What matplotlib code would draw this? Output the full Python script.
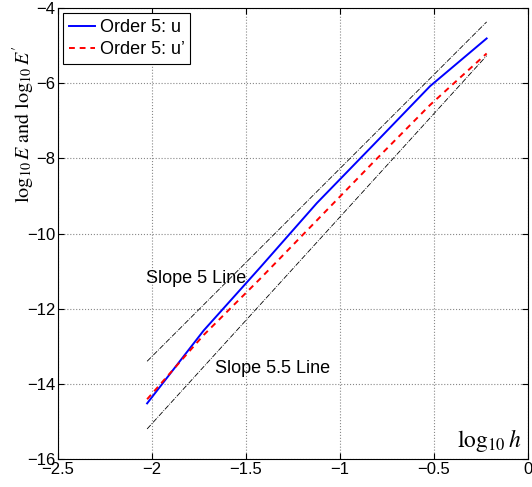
import matplotlib
matplotlib.use('Agg')
import matplotlib.pyplot as plt

plt.rc('font', family=['Liberation Sans', 'DejaVu Sans'], size=12)
plt.rc('mathtext', fontset='stix')

# log10(h) values
log_h = [-2.026, -1.725, -1.424, -1.123, -0.822, -0.521, -0.22]
# errors
err_u = [-14.52, -12.58, -10.90, -9.19, -7.64, -6.08, -4.81]
err_du = [-14.41, -12.70, -11.20, -9.65, -8.10, -6.58, -5.21]

# reference slope lines (end points)
ref_x = [-2.026, -0.22]
slope5_y = [-13.40, -4.37]
slope55_y = [-15.20, -5.27]

fig = plt.figure(figsize=(5.32, 4.87), dpi=100)
ax = fig.add_axes([58 / 532, 28 / 487, 470 / 532, 451 / 487])

ax.plot(log_h, err_u, color='blue', lw=1.4, label='Order 5: u')
ax.plot(log_h, err_du, color='red', lw=1.4, ls=(0, (3, 2.5)), label="Order 5: u\u2019")
ax.plot(ref_x, slope5_y, color='black', lw=0.6, ls='-.')
ax.plot(ref_x, slope55_y, color='black', lw=0.6, ls='-.')

ax.text(-2.03, -11.2, 'Slope 5 Line', ha='left', va='center', fontsize=13)
ax.text(-1.665, -13.6, 'Slope 5.5 Line', ha='left', va='center', fontsize=13)

ax.set_xlim(-2.5, 0)
ax.set_ylim(-16, -4)
ax.set_xticks([-2.5, -2, -1.5, -1, -0.5, 0])
ax.set_xticklabels(['\u22122.5', '\u22122', '\u22121.5', '\u22121', '\u22120.5', '0'])
ax.set_yticks([-16, -14, -12, -10, -8, -6, -4])
ax.set_yticklabels(['\u221216', '\u221214', '\u221212', '\u221210', '\u22128', '\u22126', '\u22124'])
ax.tick_params(direction='in', top=True, right=True, length=4, pad=2)
ax.grid(True, linestyle=':', color='#888888', linewidth=0.8)

ax.text(0.985, 0.012, r'$\log_{10} h$', transform=ax.transAxes, ha='right', va='bottom',
        fontsize=17, family='STIXGeneral')
ax.text(-0.072, 0.743, r"$\log_{10} E$ and $\log_{10} E'$", transform=ax.transAxes,
        rotation=90, ha='center', va='center', fontsize=14.5, family='STIXGeneral')

leg = ax.legend(loc='upper left', fancybox=False, framealpha=1, edgecolor='black',
                handlelength=1.45, borderpad=0.3, labelspacing=0.3, handletextpad=0.25,
                borderaxespad=0.3, fontsize=13)
leg.get_frame().set_linewidth(0.8)

fig.savefig('out.png', dpi=100)
